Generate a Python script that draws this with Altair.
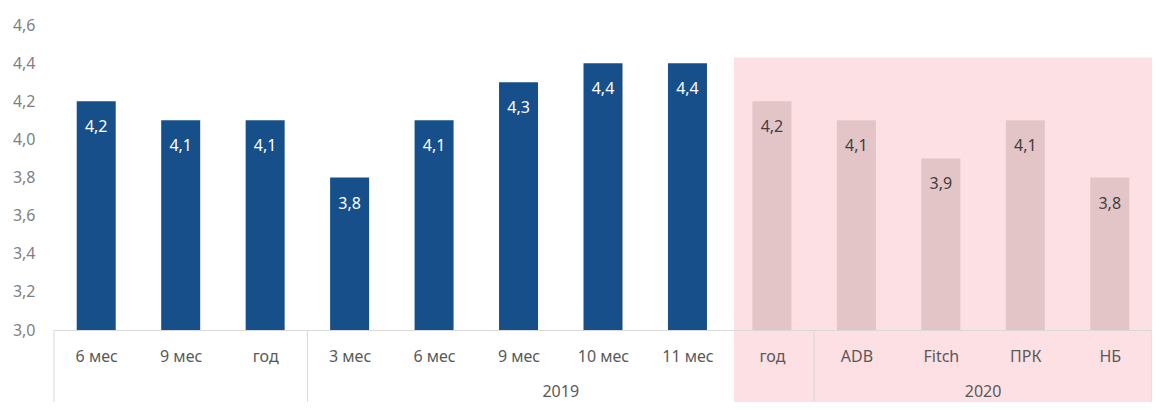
import json
import altair as alt
import pandas as pd

# ---- data ----
categories = ["6 мес", "9 мес", "год", "3 мес", "6 мес", "9 мес", "10 мес", "11 мес",
              "год", "ADB", "Fitch", "ПРК", "НБ"]
values = [4.2, 4.1, 4.1, 3.8, 4.1, 4.3, 4.4, 4.4, 4.2, 4.1, 3.9, 4.1, 3.8]
forecast = [False] * 8 + [True] * 5
group_names = ["", "2019", "2020"]
group_starts = [0, 3, 9]
group_ends = [3, 9, 13]
highlight_start = 8.05
highlight_end = 13.2
highlight_top = 4.43
y_ticks = [3.0, 3.2, 3.4, 3.6, 3.8, 4.0, 4.2, 4.4, 4.6]

n = len(categories)
df = pd.DataFrame({"i": range(n), "cat": categories, "value": values, "forecast": forecast})
df["pos"] = df["i"] + 0.5
df["lbl"] = df["value"].map(lambda v: f"{v:.1f}".replace(".", ","))

groups = pd.DataFrame({"name": group_names, "s": group_starts, "e": group_ends})
groups["mid"] = (groups["s"] + groups["e"]) / 2
seps = pd.DataFrame({"x": sorted(set(group_starts + group_ends))})
hl = pd.DataFrame({"x": [highlight_start], "x2": [highlight_end], "y": [highlight_top]})

W, H = 1098, 305
FONT = "Noto Sans"
FS = 16
xs = alt.Scale(domain=[0, n], nice=False, zero=False, padding=0)
ys = alt.Scale(domain=[3.0, 4.6], nice=False, zero=False, padding=0)

label_expr = json.dumps(categories, ensure_ascii=False) + "[floor(datum.value)]"

x_axis = alt.Axis(values=[i + 0.5 for i in range(n)], labelExpr=label_expr, title=None,
                  ticks=False, grid=False, domain=True, domainColor="#d9d9d9", domainWidth=1,
                  labelPadding=18, labelFontSize=FS, labelFont=FONT, labelColor="#595959",
                  labelBaseline="top", zindex=1)
y_axis = alt.Axis(values=y_ticks, labelExpr="replace(format(datum.value, '.1f'), '.', ',')",
                  title=None, ticks=False, grid=False, domain=False, labelPadding=19,
                  labelFontSize=FS, labelFont=FONT, labelColor="#7f7f7f", zindex=1)

bg = alt.Chart(hl).mark_rect(color="#fde0e3", clip=False).encode(
    x=alt.X("x:Q", scale=xs, axis=x_axis),
    x2="x2:Q",
    y=alt.Y("y:Q", scale=ys, axis=y_axis),
    y2=alt.value(H + 90),
)

bars = alt.Chart(df).mark_bar(size=39).encode(
    x=alt.X("pos:Q", scale=xs, axis=x_axis),
    y=alt.Y("value:Q", scale=ys, axis=y_axis),
    y2=alt.datum(3.0),
    color=alt.condition("datum.forecast", alt.value("#e3c4c7"), alt.value("#164f8a")),
)

texts = alt.Chart(df).mark_text(baseline="middle", dy=26, fontSize=FS, font=FONT).encode(
    x=alt.X("pos:Q", scale=xs, axis=x_axis),
    y=alt.Y("value:Q", scale=ys, axis=y_axis),
    text="lbl:N",
    color=alt.condition("datum.forecast", alt.value("#3f3f3f"), alt.value("#ffffff")),
)

rules = alt.Chart(seps).mark_rule(color="#d9d9d9", strokeWidth=1).encode(
    x=alt.X("x:Q", scale=xs, axis=x_axis),
    y=alt.value(H),
    y2=alt.value(H + 90),
)

glabels = alt.Chart(groups[groups["name"] != ""]).mark_text(
    baseline="middle", fontSize=FS, font=FONT, color="#595959").encode(
    x=alt.X("mid:Q", scale=xs, axis=x_axis),
    y=alt.value(H + 62),
    text="name:N",
)

chart = alt.layer(bg, bars, texts, rules, glabels).properties(
    width=W, height=H,
    autosize=alt.AutoSizeParams(type="none"),
    padding={"left": 46, "top": 17, "right": 0, "bottom": 72},
).configure_view(stroke=None)

chart.save("out.html", embed_options={"renderer": "svg", "actions": False})
